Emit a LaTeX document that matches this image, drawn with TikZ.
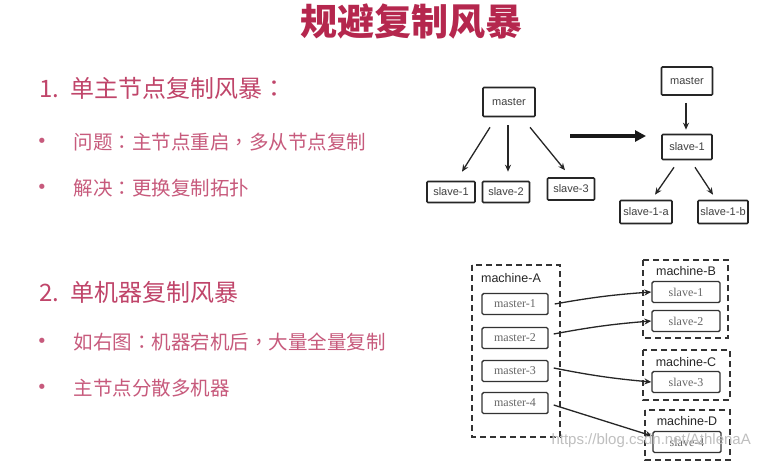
\documentclass[tikz,border=0pt]{standalone}
\usepackage{fontspec}
\setmainfont{Liberation Serif}
\setsansfont{Liberation Sans}
\newfontfamily\cjk{Noto Sans CJK SC}
\newfontfamily\cjkp{Noto Sans CJK TC}
\newfontfamily\dotfont{DejaVu Sans}
\newcommand{\pcolon}{{\cjkp ：}}
\newcommand{\pcomma}{{\cjkp ，}}
\usetikzlibrary{calc,arrows.meta}
\definecolor{titlered}{HTML}{B5274E}
\definecolor{headred}{HTML}{C0456A}
\definecolor{textred}{HTML}{C75A7C}
\begin{document}
\begin{tikzpicture}[x=1pt,y=-1pt,
  treebox/.style={draw=black!85,line width=1.6pt,rounded corners=1pt,inner sep=0pt,font=\sffamily\fontsize{11}{13}\selectfont,text=black!75},
  slotbox/.style={draw=black!80,line width=1.4pt,rounded corners=1.5pt,minimum width=66pt,minimum height=21pt,inner sep=0pt,font=\rmfamily\fontsize{12}{14}\selectfont,text=black!60},
  machbox/.style={draw=black!80,line width=1.5pt,dash pattern=on 6pt off 4pt},
  machlabel/.style={font=\sffamily\fontsize{12.5}{14}\selectfont,text=black!85},
  treearrow/.style={-{Stealth[length=7pt,width=6pt]},line width=1.3pt,black!85},
  reparrow/.style={-{Stealth[length=7pt,width=6pt]},line width=1.3pt,black!85},
  heading/.style={anchor=west,font=\cjk\fontsize{24}{28}\selectfont,text=headred},
  bullettext/.style={anchor=west,font=\cjk\fontsize{19.5}{24}\selectfont,text=textred},
  bulletdot/.style={font=\dotfont\fontsize{18}{20}\selectfont,text=textred}
]
\useasboundingbox (0,0) rectangle (765,463);
\fill[white] (0,0) rectangle (765,463);

% title
\node[font=\cjk\bfseries\fontsize{37}{42}\selectfont,text=titlered] (title) at (411,22) {规避复制风暴};

% section 1
\node[heading] (h1) at (36,88) {1.\ \ 单主节点复制风暴\pcolon};
\node[bulletdot] (b1) at (42,143) {•};
\node[bullettext] (t1) at (70,142) {问题\pcolon 主节点重启\pcomma 多从节点复制};
\node[bulletdot] (b2) at (42,189) {•};
\node[bullettext] (t2) at (70,188) {解决\pcolon 更换复制拓扑};

% section 2
\node[heading] (h2) at (36,292) {2.\ \ 单机器复制风暴};
\node[bulletdot] (b3) at (42,343) {•};
\node[bullettext] (t3) at (70,342) {如右图\pcolon 机器宕机后\pcomma 大量全量复制};
\node[bulletdot] (b4) at (42,389) {•};
\node[bullettext] (t4) at (70,388) {主节点分散多机器};

% tree 1
\node[treebox,minimum width=52pt,minimum height=29pt] (m0) at (509,102) {master};
\node[treebox,minimum width=48pt,minimum height=21pt] (s1) at (451,192) {slave-1};
\node[treebox,minimum width=47pt,minimum height=21pt] (s2) at (506,192) {slave-2};
\node[treebox,minimum width=47pt,minimum height=22pt] (s3) at (571,189) {slave-3};
\draw[treearrow] ($(m0.south)+(-19,10)$) -- ($(s1.north)+(11,-9)$);
\draw[treearrow] ($(m0.south)+(-1,8)$) -- ($(s2.north)+(2,-9)$);
\draw[treearrow] ($(m0.south)+(21,10)$) -- ($(s3.north)+(-6,-7)$);

% big arrow
\coordinate (ba) at (570,136);
\coordinate (bb) at (646,136);
\draw[-{Triangle[length=11pt,width=11pt]},line width=3.4pt,black!90] (ba) -- (bb);

% tree 2
\node[treebox,minimum width=51pt,minimum height=28pt] (m1) at (687,81) {master};
\node[treebox,minimum width=50pt,minimum height=25pt] (q1) at (687,147) {slave-1};
\node[treebox,minimum width=52pt,minimum height=23pt] (qa) at (646,212) {slave-1-a};
\node[treebox,minimum width=50pt,minimum height=23pt] (qb) at (723,212) {slave-1-b};
\draw[treearrow] ($(m1.south)+(-1,7)$) -- ($(q1.north)+(-1,-4)$);
\draw[treearrow] ($(q1.south)+(-13,7)$) -- ($(qa.north)+(9,-5)$);
\draw[treearrow] ($(q1.south)+(8,7)$) -- ($(qb.north)+(-10,-5)$);

% machines
\draw[machbox] (472,265) rectangle (560,437);
\node[machlabel] (la) at (511,278) {machine-A};
\node[slotbox] (pm1) at (515,304) {master-1};
\node[slotbox] (pm2) at (515,338) {master-2};
\node[slotbox] (pm3) at (515,371) {master-3};
\node[slotbox] (pm4) at (515,403) {master-4};

\draw[machbox] (643,260) rectangle (728,338);
\node[machlabel] (lb) at (686,271) {machine-B};
\node[slotbox,minimum width=68pt] (ps1) at (686,292) {slave-1};
\node[slotbox,minimum width=68pt] (ps2) at (686,321) {slave-2};

\draw[machbox] (643,350) rectangle (730,400);
\node[machlabel] (lc) at (686,362) {machine-C};
\node[slotbox,minimum width=68pt] (ps3) at (686,382) {slave-3};

\draw[machbox] (645,410) rectangle (730,460);
\node[machlabel] (ld) at (687,421) {machine-D};
\node[slotbox,minimum width=68pt] (ps4) at (687,442) {slave-4};

\draw[reparrow] ($(pm1.east)+(6,0)$) to[bend left=3] (ps1.west);
\draw[reparrow] ($(pm2.east)+(5,-4)$) to[bend left=3] (ps2.west);
\draw[reparrow] ($(pm3.east)+(5,-3)$) to[bend right=3] (ps3.west);
\draw[reparrow] ($(pm4.east)+(5,2)$) -- ($(ps4.west)+(0,-6)$);

% watermark
\node[font=\sffamily\fontsize{15}{18}\selectfont,text=black!25,anchor=west] (wm) at (548,441) {https://blog.csdn.net/AthlenaA};
\end{tikzpicture}
\end{document}
